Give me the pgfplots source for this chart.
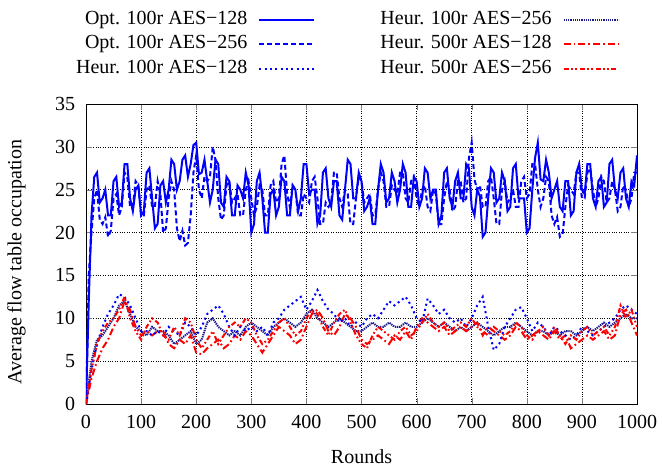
\documentclass[border=0pt]{standalone}
\usepackage{fontspec}
\setmainfont{Liberation Serif}
\usepackage{pgfplots}
\pgfplotsset{compat=1.18}
\definecolor{hblue}{rgb}{0.1,0.1,0.55}
\begin{document}
\fontsize{20}{24}\selectfont
\begin{tikzpicture}[x=1pt,y=1pt]
\begin{axis}[
  at={(0,0)}, anchor=south west,
  scale only axis, width=551pt, height=300pt,
  xmin=0, xmax=1000, ymin=0, ymax=35,
  xtick={0,100,...,1000}, ytick={0,5,...,35},
  tick align=inside, major tick length=6pt,
  grid=major, grid style={black, dotted, line width=0.6pt},
  axis line style={black, line width=0.8pt},
  /pgf/number format/assume math mode=true,
  /pgf/number format/1000 sep={},
  xticklabel style={yshift=-4pt},
  yticklabel style={xshift=-4pt},
  xlabel={Rounds}, ylabel={Average flow table occupation},
  xlabel style={yshift=-8pt}, ylabel style={yshift=16pt, xshift=-8pt},
  legend columns=2,
  legend plot pos=right,
  legend cell align=right,
  legend image code/.code={\draw[#1] (0pt,0pt) -- (55pt,0pt);},
  legend style={draw=none, fill=none, inner sep=0pt, at={(axis description cs:-0.020,1.3167)}, anchor=north west,
    row sep=3.8pt,
    nodes={inner sep=1pt, text height=14pt, text depth=5pt},
    /tikz/every odd column/.append style={column sep=10pt},
    /tikz/every even column/.append style={column sep=64pt}},
  every axis plot/.append style={line width=2pt},
]
% Opt. 100r AES-128
\addplot[blue, solid] coordinates {(0,0)(5,12)(10,22)(15,26.5)(20,27)(25,23.5)(30,24)(35,25)(40,22)(45,22)(50,26)(55,26.5)(60,23)(65,23.5)(70,28)(75,28)(80,24)(85,22.5)(90,25)(95,25.5)(100,22)(105,22.5)(110,27)(115,27.5)(120,24)(125,20.5)(130,21)(135,25.5)(140,26)(145,23.5)(150,25)(155,28.5)(160,28)(165,25)(170,26)(175,28.5)(180,29)(185,26.5)(190,28)(195,30.2)(200,30.5)(205,26.8)(210,27)(215,28.5)(220,26)(225,23.5)(230,25)(235,28.5)(240,28)(245,23.5)(250,23)(255,26.5)(260,26)(265,22)(270,22)(275,25.5)(280,25)(285,24)(290,27)(295,25.5)(300,20)(305,21)(310,26)(315,27)(320,24)(325,20)(330,20)(335,24.5)(340,25)(345,22)(350,23)(355,26.5)(360,26)(365,22)(370,22)(375,25.5)(380,25)(385,22.5)(390,24)(395,28)(400,28)(405,24.5)(410,25)(415,25)(420,21)(425,22)(430,27)(435,27.5)(440,24)(445,23)(450,26)(455,26)(460,22)(465,21.5)(470,25)(475,28.5)(480,28)(485,24)(490,24)(495,27)(500,26)(505,22.5)(510,23)(515,24)(520,21)(525,21)(530,25)(535,28)(540,27)(545,23.5)(550,24)(555,27)(560,26)(565,23.5)(570,25)(575,28)(580,27)(585,23)(590,23)(595,26.5)(600,26)(605,23)(610,24)(615,27.5)(620,27)(625,24)(630,25)(635,25)(640,21)(645,22)(650,27)(655,27.5)(660,24)(665,23)(670,26)(675,27)(680,24)(685,24)(690,28)(695,27.5)(700,23)(705,22)(710,25)(715,24.2)(720,19.5)(725,20)(730,24)(735,27.5)(740,27)(745,23.5)(750,24)(755,27)(760,26)(765,22.5)(770,23)(775,27.5)(780,28)(785,24)(790,24)(795,24)(800,20)(805,20.5)(810,25)(815,28.7)(820,30.5)(825,26.2)(830,26)(835,28.5)(840,27)(845,24)(850,25)(855,26)(860,23)(865,22.5)(870,26)(875,26)(880,22)(885,22.5)(890,27)(895,28)(900,25)(905,24.5)(910,28)(915,28)(920,24)(925,23)(930,26)(935,26.5)(940,23)(945,23.5)(950,28)(955,28.5)(960,25)(965,24)(970,27)(975,27.5)(980,24)(985,23)(990,26)(995,25.5)(1000,29)};
\addlegendentry{Opt. 100r AES−128}
% Heur. 100r AES-256
\addplot[hblue, dash pattern=on 1.3pt off 0.9pt, line width=2pt] coordinates {(0,0)(10,5)(20,7.5)(30,8)(40,9)(50,10)(60,11.5)(70,12)(80,10.5)(90,9)(100,8.5)(110,8)(120,9)(130,8.5)(140,8.5)(150,8)(160,7)(170,7.5)(180,8)(190,8.5)(200,7)(210,7.5)(220,9.5)(230,10)(240,9)(250,8.5)(260,8)(270,8.5)(280,8)(290,9)(300,9.5)(310,9)(320,8.5)(330,8)(340,9)(350,9.5)(360,10)(370,9.5)(380,9)(390,9.5)(400,10.5)(410,11)(420,10)(430,9.5)(440,9)(450,9.5)(460,10)(470,9.5)(480,9)(490,8.5)(500,8.5)(510,9)(520,9.5)(530,9)(540,9)(550,9.5)(560,9)(570,9)(580,9.5)(590,9)(600,9)(610,9.5)(620,10)(630,9.5)(640,9)(650,9.5)(660,9)(670,8.5)(680,9)(690,8.5)(700,9)(710,9.5)(720,9)(730,8.5)(740,8)(750,8.5)(760,9)(770,9)(780,9.5)(790,9)(800,8.5)(810,8)(820,8.5)(830,8.5)(840,8)(850,8.5)(860,8)(870,8.5)(880,8.5)(890,8)(900,8.5)(910,9)(920,8.5)(930,9)(940,9.5)(950,9)(960,9.5)(970,10)(980,10.5)(990,10)(1000,10)};
\addlegendentry{Heur. 100r AES−256}
% Opt. 100r AES-256
\addplot[blue, dash pattern=on 5pt off 3pt] coordinates {(0,0)(5,15)(10,20)(15,24)(20,25)(25,21.5)(30,21)(35,21.8)(40,19.5)(45,20.2)(50,24)(55,24.5)(60,22)(65,23)(70,27)(75,26.5)(80,23)(85,23)(90,26)(95,25.5)(100,22)(105,22)(110,25)(115,25.5)(120,23)(125,23)(130,26)(135,24.5)(140,20)(145,20.5)(150,24)(155,26)(160,25)(165,20.5)(170,19)(175,20.2)(180,18.5)(185,18.8)(190,22)(195,27)(200,29)(205,25)(210,24)(215,26.5)(220,26)(225,26.5)(230,30)(235,28.5)(240,24)(245,21.5)(250,22)(255,25.5)(260,26)(265,23.5)(270,24)(275,24.5)(280,22)(285,22)(290,25)(295,26)(300,24)(305,22)(310,23)(315,25.5)(320,25)(325,22)(330,22)(335,25.5)(340,26)(345,23.5)(350,24)(355,28)(360,29)(365,24.5)(370,23)(375,25.5)(380,25)(385,22)(390,22)(395,24.5)(400,24)(405,23.5)(410,26)(415,26.5)(420,24)(425,21)(430,21)(435,23.5)(440,23)(445,23.5)(450,27)(455,27)(460,24)(465,23)(470,25)(475,24.5)(480,21)(485,21)(490,24)(495,26.5)(500,26)(505,23.5)(510,24)(515,24.5)(520,22)(525,22)(530,25)(535,27)(540,26)(545,23)(550,23)(555,25.5)(560,25)(565,24.5)(570,27)(575,27)(580,24)(585,23.5)(590,26)(595,26.5)(600,24)(605,23)(610,25)(615,25.5)(620,23)(625,22.5)(630,25)(635,24.5)(640,21)(645,21)(650,24)(655,26)(660,25)(665,22.5)(670,23)(675,26)(680,26)(685,23.5)(690,24)(695,28.7)(700,30.5)(705,26.2)(710,25)(715,25.5)(720,23)(725,23)(730,26)(735,26.5)(740,24)(745,21)(750,21)(755,25)(760,26)(765,23.5)(770,24)(775,25)(780,23)(785,23)(790,26)(795,26.5)(800,24)(805,24.5)(810,28)(815,28)(820,25)(825,23)(830,24)(835,26.5)(840,26)(845,22)(850,21)(855,21.8)(860,19.5)(865,19.8)(870,23)(875,25.5)(880,25)(885,24.5)(890,27)(895,27)(900,24)(905,24)(910,27)(915,27.5)(920,25)(925,23)(930,24)(935,26.5)(940,26)(945,23.5)(950,24)(955,26)(960,25)(965,22.5)(970,23)(975,25.5)(980,25)(985,23)(990,24)(995,27)(1000,27)};
\addlegendentry{Opt. 100r AES−256}
% Heur. 500r AES-128
\addplot[red, dash pattern=on 7pt off 3pt on 1.7pt off 3pt] coordinates {(0,0)(10,3)(20,5)(30,6.5)(40,7.5)(50,9)(60,10)(70,12)(80,11)(90,9)(100,8)(110,8.5)(120,8)(130,8.5)(140,8.5)(150,7)(160,6.5)(170,7.5)(180,7)(190,8)(200,6)(210,5.8)(220,6.5)(230,7)(240,7.5)(250,6.5)(260,7)(270,8)(280,7.5)(290,8.5)(300,8)(310,7)(320,6)(330,7)(340,8)(350,9)(360,8.5)(370,8)(380,7)(390,7.5)(400,9)(410,10.5)(420,11)(430,10)(440,8.5)(450,8)(460,9)(470,10.5)(480,10)(490,9)(500,7.5)(510,7)(520,7.5)(530,8)(540,7.5)(550,7)(560,8)(570,7.5)(580,8.5)(590,7.5)(600,9)(610,10)(620,9.5)(630,9)(640,8.5)(650,9)(660,8)(670,8.5)(680,9)(690,8.5)(700,9)(710,9.5)(720,8)(730,9)(740,8.5)(750,8)(760,7.5)(770,8)(780,9)(790,8.5)(800,7.5)(810,8)(820,8.5)(830,8)(840,7.5)(850,8.5)(860,7.5)(870,8)(880,6.5)(890,7)(900,7.5)(910,8)(920,7.5)(930,8)(940,8.5)(950,7.5)(960,8)(970,10.5)(980,11)(990,9.5)(1000,8)};
\addlegendentry{Heur. 500r AES−128}
% Heur. 100r AES-128
\addplot[blue, dash pattern=on 2pt off 3.3pt] coordinates {(0,0)(10,4)(20,7)(30,9)(40,10.5)(50,11.5)(60,12.8)(70,12.5)(80,11.5)(90,10)(100,8.5)(110,8.5)(120,8)(130,8.5)(140,8)(150,9)(160,8.5)(170,8)(180,9.5)(190,9)(200,8)(210,9)(220,10.5)(230,11)(240,11.5)(250,10.5)(260,9)(270,8)(280,9)(290,8.5)(300,9)(310,8.5)(320,9)(330,8)(340,9.5)(350,10)(360,11)(370,11.5)(380,12)(390,12.5)(400,11)(410,12)(420,13.3)(430,12)(440,11)(450,10.5)(460,9.5)(470,10)(480,9)(490,9.5)(500,9)(510,10)(520,10.5)(530,10)(540,11)(550,12)(560,11.5)(570,12)(580,12.5)(590,11.5)(600,10)(610,9.5)(620,12.3)(630,11.5)(640,10.5)(650,11)(660,10)(670,9.5)(680,10)(690,9)(700,10)(710,11.5)(720,12.5)(730,9)(740,6.3)(750,7)(760,9)(770,10)(780,11)(790,11.3)(800,10)(810,8.5)(820,9.5)(830,9)(840,8)(850,9)(860,8.5)(870,8)(880,7.5)(890,8)(900,9)(910,8.5)(920,8)(930,8.5)(940,9)(950,9.5)(960,10)(970,11)(980,11.5)(990,11)(1000,10.5)};
\addlegendentry{Heur. 100r AES−128}
% Heur. 500r AES-256
\addplot[red, dash pattern=on 5pt off 2.5pt on 1.7pt off 2.5pt on 1.7pt off 2.5pt] coordinates {(0,0)(10,4)(20,7)(30,8.5)(40,9.5)(50,10)(60,11)(70,12.5)(80,10)(90,8.5)(100,7.5)(110,9)(120,10)(130,9.5)(140,8)(150,7.5)(160,9)(170,8)(180,10)(190,9.5)(200,7.5)(210,6.5)(220,7.5)(230,8.5)(240,7)(250,8)(260,9)(270,9.5)(280,9)(290,10)(300,9.5)(310,8)(320,7)(330,7.5)(340,8.5)(350,9.5)(360,10)(370,9)(380,8)(390,8.5)(400,10)(410,11)(420,10.5)(430,9)(440,8)(450,9.5)(460,10.5)(470,11)(480,9.5)(490,8)(500,7)(510,6.5)(520,8)(530,9)(540,8.5)(550,8)(560,7.5)(570,8.5)(580,9)(590,8)(600,8.5)(610,9.5)(620,10.5)(630,9.5)(640,9)(650,9.5)(660,8.5)(670,9)(680,9.5)(690,9)(700,10)(710,9)(720,8.5)(730,8)(740,9)(750,8.5)(760,8)(770,8.5)(780,9.5)(790,9)(800,8)(810,7.5)(820,8.5)(830,9)(840,8)(850,9)(860,8)(870,7)(880,8)(890,7.5)(900,8.5)(910,9)(920,8)(930,8.5)(940,9)(950,8)(960,9)(970,11.5)(980,10)(990,11)(1000,9)};
\addlegendentry{Heur. 500r AES−256}
\end{axis}
\pgfresetboundingbox
\useasboundingbox (-86,-65) rectangle (576,404);
\end{tikzpicture}
\end{document}
